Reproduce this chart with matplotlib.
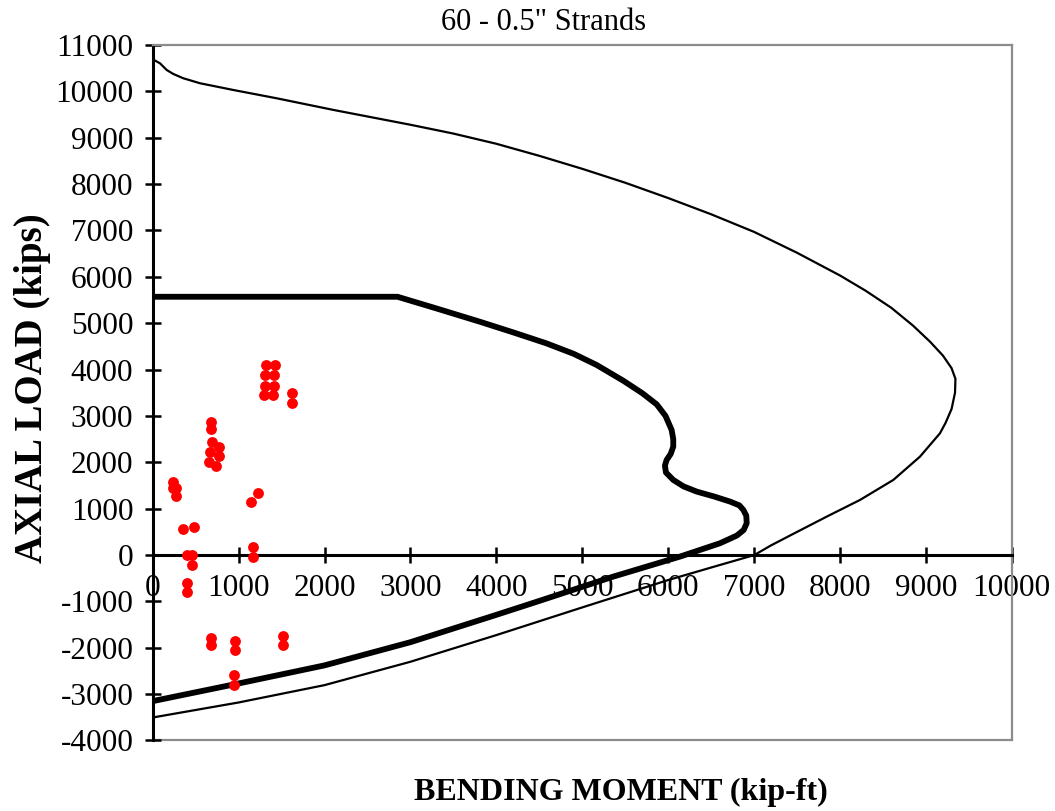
import matplotlib.pyplot as plt
import numpy as np

# nominal interaction curve (moment kip-ft, axial load kips)
nominal_m = [0, 85, 163, 240, 357, 551, 938, 1443, 2103, 2608, 3000, 3500, 4000,
             4500, 5000, 5500, 6000, 6500, 7000, 7500, 8000, 8300, 8600, 8850,
             9050, 9200, 9300, 9345, 9340, 9300, 9230, 9165, 8932, 8622, 8234,
             7846, 7450, 7200, 7004, 6500, 6000, 5000, 4000, 3000, 2000, 1000, 0]
nominal_p = [10692, 10605, 10461, 10375, 10282, 10175, 10030, 9851, 9600, 9420,
             9280, 9090, 8870, 8610, 8330, 8030, 7700, 7350, 6970, 6520, 6030,
             5700, 5330, 4950, 4600, 4300, 4030, 3800, 3500, 3150, 2850, 2626,
             2122, 1620, 1188, 828, 450, 210, 0, -270, -540, -1130, -1727, -2302,
             -2806, -3180, -3504]

# design (factored) interaction curve
design_m = [0, 2850, 3300, 3808, 4200, 4584, 4900, 5167, 5478, 5700, 5867, 5970,
            6041, 6060, 6060, 6030, 5983, 5963, 5975, 6060, 6180, 6333, 6540,
            6722, 6830, 6876, 6910, 6915, 6880, 6800, 6604, 6138, 5362, 4500,
            4000, 3000, 2000, 1000, 0]
design_p = [5570, 5570, 5320, 5032, 4800, 4565, 4340, 4100, 3760, 3490, 3250,
            3000, 2698, 2500, 2338, 2180, 2051, 1930, 1780, 1620, 1480, 1368,
            1260, 1152, 1070, 973, 850, 686, 540, 420, 254, -34, -465, -990,
            -1290, -1880, -2380, -2770, -3151]

# applied load cases
load_m = [1319, 1428, 1304, 1412, 1304, 1412, 1296, 1401, 1619, 1619,
          677, 677, 696, 767, 669, 767, 650, 739,
          233, 233, 276, 272, 358, 486, 1140, 1222, 1165,
          400, 462, 458, 1165, 400, 400,
          680, 680, 958, 958, 1518, 1518, 950, 950]
load_p = [4093, 4093, 3878, 3878, 3648, 3648, 3447, 3447, 3497, 3289,
          2859, 2708, 2428, 2327, 2212, 2133, 2014, 1928,
          1583, 1454, 1440, 1282, 557, 600, 1136, 1344, 178,
          -3, -3, -219, -38, -606, -808,
          -1793, -1940, -1850, -2045, -1750, -1940, -2590, -2800]

xticks = np.arange(0, 10001, 1000)
yticks = np.arange(-4000, 11001, 1000)

plt.rcParams['font.family'] = ['Liberation Serif', 'DejaVu Serif']
plt.rcParams['axes.unicode_minus'] = False

fig = plt.figure(figsize=(10.55, 8.11), dpi=100)
ax = fig.add_axes([0.14474, 0.08693, 0.81422, 0.85758])

ax.plot(nominal_m, nominal_p, color='black', linewidth=1.6, zorder=3,
        solid_joinstyle='round')
ax.plot(design_m, design_p, color='black', linewidth=4.2, zorder=3,
        solid_joinstyle='round', solid_capstyle='butt')
ax.plot(load_m, load_p, 'o', color='#ff0000', markersize=7.8,
        markeredgewidth=0, zorder=4)

ax.set_xlim(0, 10000)
ax.set_ylim(-4000, 11000)
ax.set_xticks(xticks)
ax.set_yticks(yticks)

ax.spines['bottom'].set_position(('data', 0))
ax.spines['bottom'].set_linewidth(2.2)
ax.spines['left'].set_linewidth(2.2)
for side in ['top', 'right']:
    ax.spines[side].set_color('#8c8c8c')
    ax.spines[side].set_linewidth(1.6)
# lower edge of the plot area
ax.plot([0, 1], [0, 0], transform=ax.transAxes, color='#8c8c8c',
        linewidth=1.6, clip_on=False, zorder=1)

ax.tick_params(axis='both', direction='inout', length=12, width=1.8,
               labelsize=22.5, pad=8)

fig.text(544 / 1055, 1 - 22 / 811, '60 - 0.5" Strands', ha='center',
         va='center', fontsize=22)
fig.text(621 / 1055, 1 - 792 / 811, 'BENDING MOMENT (kip-ft)', ha='center',
         va='center', fontsize=23, fontweight='bold')
fig.text(33 / 1055, 1 - 388 / 811, 'AXIAL LOAD (kips)', ha='center',
         va='center', fontsize=28, fontweight='bold', rotation=90)

fig.savefig('out.png', dpi=100)
